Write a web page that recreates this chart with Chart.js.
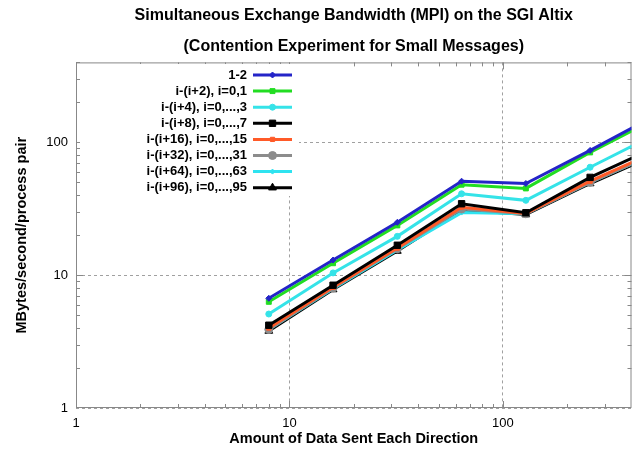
<!DOCTYPE html>
<html><head><meta charset="utf-8">
<script src="https://cdn.jsdelivr.net/npm/chart.js@4.4.1/dist/chart.umd.min.js"></script>
<style>html,body{margin:0;padding:0;background:#fff}#wrap{width:637px;height:450px}</style>
</head><body><div id="wrap"><canvas id="c" width="637" height="450"></canvas></div>
<script>
// ---- data ----
const sizes = [8, 16, 32, 64, 128, 256, 512];
const seriesLabels = ['1-2', 'i-(i+2), i=0,1', 'i-(i+4), i=0,...,3', 'i-(i+8), i=0,...,7',
  'i-(i+16), i=0,...,15', 'i-(i+32), i=0,...,31', 'i-(i+64), i=0,...,63', 'i-(i+96), i=0,...,95'];
const bw_1_2  = [6.7, 13.0, 25.0, 51.0, 49.0, 87, 158];
const bw_i2   = [6.3, 12.3, 23.7, 48.0, 45.0, 84, 149];
const bw_i4   = [5.1, 10.4, 19.6, 41.0, 36.6, 65, 114];
const bw_i8   = [4.2, 8.4, 16.8, 34.5, 29.5, 54.5, 91];
const bw_i16  = [4.0, 8.1, 16.0, 32.5, 29.2, 51, 84];
const bw_i32  = [3.9, 8.0, 15.8, 31.5, 29.0, 50, 82];
const bw_i64  = [3.9, 7.9, 15.5, 29.6, 29.0, 50, 82];
const bw_i96  = [3.8, 7.8, 15.2, 31.0, 28.6, 49, 80];
const majorTicks = [1, 10, 100];
const minorTicks = [2, 3, 4, 5, 6, 7, 8, 9, 20, 30, 40, 50, 60, 70, 80, 90, 200, 300, 400];
const titleLines = ['Simultaneous Exchange Bandwidth (MPI) on the SGI Altix', '(Contention Experiment for Small Messages)'];
const xTitle = 'Amount of Data Sent Each Direction';
const yTitle = 'MBytes/second/process pair';

// ---- styles ----
const seriesValues = [bw_1_2, bw_i2, bw_i4, bw_i8, bw_i16, bw_i32, bw_i64, bw_i96];
const colors = ['#2424c8', '#22dd22', '#35e3e8', '#000000', '#ff5a28', '#8c8c8c', '#2ee3f0', '#000000'];
const pStyles = ['rectRot', 'rect', 'circle', 'rect', 'rect', 'circle', 'rectRot', 'triangle'];
const pRadius = [3, 3.5, 3, 4.5, 3, 4, 2.5, 4.5];
const FONT = "'Liberation Sans', Arial, Helvetica, sans-serif";

const datasets = seriesValues.map((vals, i) => ({
  label: seriesLabels[i],
  data: sizes.map((x, j) => ({ x: x, y: vals[j] })),
  borderColor: colors[i],
  backgroundColor: colors[i],
  borderWidth: 3,
  pointStyle: pStyles[i],
  pointRadius: pRadius[i],
  pointBorderWidth: 1,
  fill: false,
  tension: 0
}));

const frame = {
  id: 'frame',
  beforeDatasetsDraw(chart) {
    const { ctx, chartArea: a, scales } = chart;
    ctx.save();
    ctx.strokeStyle = '#888';
    ctx.lineWidth = 1;
    ctx.strokeRect(a.left + 0.5, a.top + 0.5, a.right - a.left - 1, a.bottom - a.top - 1);
    const drawTicks = (vals, len) => {
      vals.forEach(v => {
        const px = Math.round(scales.x.getPixelForValue(v)) + 0.5;
        if (px > a.left && px < a.right) {
          ctx.beginPath();
          ctx.moveTo(px, a.bottom); ctx.lineTo(px, a.bottom - len);
          ctx.moveTo(px, a.top); ctx.lineTo(px, a.top + len);
          ctx.stroke();
        }
        const py = Math.round(scales.y.getPixelForValue(v)) + 0.5;
        if (py > a.top && py < a.bottom) {
          ctx.beginPath();
          ctx.moveTo(a.left, py); ctx.lineTo(a.left + len, py);
          ctx.moveTo(a.right, py); ctx.lineTo(a.right - len, py);
          ctx.stroke();
        }
      });
    };
    drawTicks(minorTicks, 4);
    drawTicks(majorTicks, 7);
    ctx.restore();
  }
};

const legendBox = {
  id: 'legendBox',
  afterDatasetsDraw(chart) {
    const { ctx } = chart;
    ctx.save();
    ctx.fillStyle = '#fff';
    ctx.fillRect(80, 64, 219, 132);
    ctx.font = 'bold 13px ' + FONT;
    ctx.textAlign = 'right';
    ctx.textBaseline = 'middle';
    chart.data.datasets.forEach((ds, i) => {
      const y = 75 + i * 16.1;
      ctx.fillStyle = '#000';
      ctx.fillText(ds.label, 247, y);
      ctx.strokeStyle = ds.borderColor;
      ctx.lineWidth = 3;
      ctx.beginPath(); ctx.moveTo(253, y); ctx.lineTo(292, y); ctx.stroke();
      ctx.fillStyle = ds.backgroundColor;
      ctx.lineWidth = 1;
      Chart.helpers.drawPoint(ctx, { pointStyle: ds.pointStyle, radius: ds.pointRadius, rotation: 0, borderWidth: 1 }, 272.5, y);
    });
    ctx.restore();
  }
};

const axisCommon = (title, titlePad) => ({
  type: 'logarithmic',
  min: 1,
  max: 400,
  afterBuildTicks: s => { s.ticks = majorTicks.map(v => ({ value: v })); },
  ticks: {
    font: { family: FONT, size: 13 },
    color: '#000',
    padding: 8,
    autoSkip: false,
    maxRotation: 0,
    callback: v => String(v)
  },
  grid: { color: '#a0a0a0', lineWidth: 1, drawTicks: false },
  border: { display: false, dash: [3, 3] },
  title: { display: true, text: title, color: '#000', font: { family: FONT, size: 14.5, weight: 'bold' }, padding: titlePad }
});

const xAxis = axisCommon(xTitle, { top: 0, bottom: 0 });
xAxis.afterFit = s => { s.height = 40; };
const yAxis = axisCommon(yTitle, { top: 5, bottom: 0 });
yAxis.afterFit = s => { s.width = 68; };

new Chart(document.getElementById('c'), {
  type: 'line',
  data: { datasets },
  options: {
    responsive: false,
    animation: false,
    devicePixelRatio: 1,
    layout: { padding: { left: 8, right: 4, top: 0, bottom: 2 } },
    scales: { x: xAxis, y: yAxis },
    plugins: {
      legend: { display: false },
      tooltip: { enabled: false },
      title: {
        display: true,
        fullSize: false,
        text: titleLines,
        color: '#000',
        font: { family: FONT, size: 16, weight: 'bold', lineHeight: 1.95 },
        padding: 0
      }
    }
  },
  plugins: [frame, legendBox]
});
</script></body></html>
